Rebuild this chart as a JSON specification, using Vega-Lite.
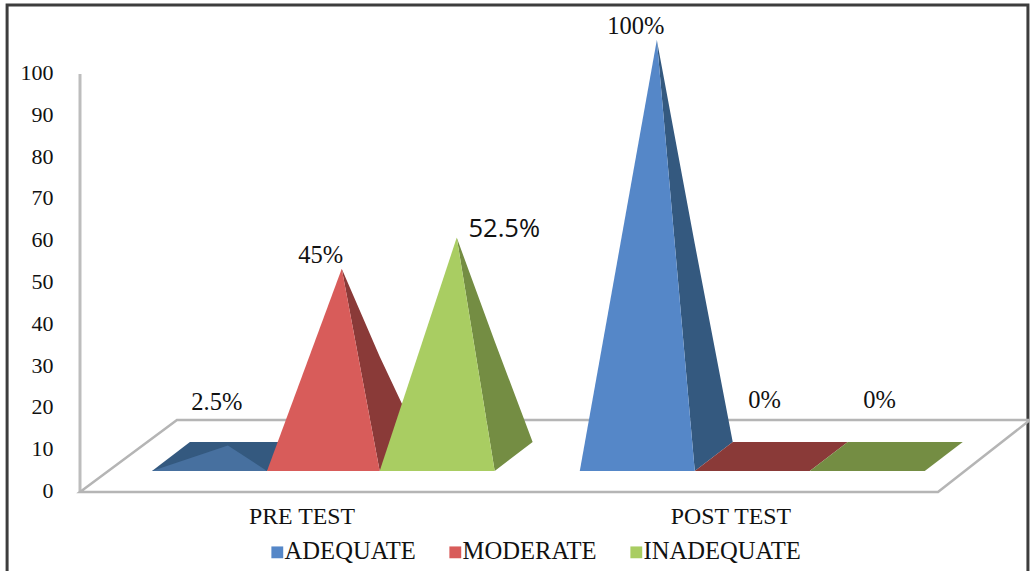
{
  "$schema": "https://vega.github.io/schema/vega-lite/v6.json",
  "autosize": "none",
  "width": 950,
  "height": 418,
  "padding": {"left": 80, "top": 74, "right": 0, "bottom": 79},
  "background": "white",
  "config": {
    "view": {"stroke": null},
    "font": "Liberation Serif",
    "text": {"font": "Liberation Serif", "fontSize": 24.5, "color": "#111111"}
  },
  "datasets": {
    "frame": [{"x": -1.26, "x2": 7.617, "top": 108.4, "bottom": -28.6}],
    "wall": [{"x": -0.626, "from": 0, "to": 100}],
    "floor": [
      {"x": -0.626, "top": -8.65, "bottom": -8.65},
      {"x": 0.217, "top": 8.65, "bottom": -8.65},
      {"x": 6.835, "top": 8.65, "bottom": -8.65},
      {"x": 7.635, "top": 8.65, "bottom": 8.65}
    ],
    "faces": [
      {"bar": "pre-adequate-side", "part": "ADEQUATE side", "x": 0, "top": -3.6, "bottom": -3.6},
      {"bar": "pre-adequate-side", "part": "ADEQUATE side", "x": 0.33, "top": 3.37, "bottom": -3.6},
      {"bar": "pre-adequate-side", "part": "ADEQUATE side", "x": 1, "top": 3.37, "bottom": -3.6},
      {"bar": "pre-adequate-side", "part": "ADEQUATE side", "x": 1.33, "top": 3.37, "bottom": 3.37},
      {"bar": "pre-adequate-front", "part": "ADEQUATE low", "x": 0, "top": -3.6, "bottom": -3.6},
      {"bar": "pre-adequate-front", "part": "ADEQUATE low", "x": 0.66, "top": 2.5, "bottom": -3.6},
      {"bar": "pre-adequate-front", "part": "ADEQUATE low", "x": 1, "top": -3.6, "bottom": -3.6},

      {"bar": "pre-moderate-side", "part": "MODERATE side", "x": 1.65, "top": 45, "bottom": 45},
      {"bar": "pre-moderate-side", "part": "MODERATE side", "x": 1.98, "top": 23.9, "bottom": -3.6},
      {"bar": "pre-moderate-side", "part": "MODERATE side", "x": 2.33, "top": 3.37, "bottom": 3.37},
      {"bar": "pre-moderate-front", "part": "MODERATE", "x": 1, "top": -3.6, "bottom": -3.6},
      {"bar": "pre-moderate-front", "part": "MODERATE", "x": 1.65, "top": 45, "bottom": -3.6},
      {"bar": "pre-moderate-front", "part": "MODERATE", "x": 1.98, "top": -3.6, "bottom": -3.6},

      {"bar": "pre-inadequate-side", "part": "INADEQUATE side", "x": 2.65, "top": 52.5, "bottom": 52.5},
      {"bar": "pre-inadequate-side", "part": "INADEQUATE side", "x": 2.98, "top": 27.6, "bottom": -3.6},
      {"bar": "pre-inadequate-side", "part": "INADEQUATE side", "x": 3.31, "top": 3.37, "bottom": 3.37},
      {"bar": "pre-inadequate-front", "part": "INADEQUATE", "x": 1.98, "top": -3.6, "bottom": -3.6},
      {"bar": "pre-inadequate-front", "part": "INADEQUATE", "x": 2.65, "top": 52.5, "bottom": -3.6},
      {"bar": "pre-inadequate-front", "part": "INADEQUATE", "x": 2.98, "top": -3.6, "bottom": -3.6},

      {"bar": "post-adequate-side", "part": "ADEQUATE side", "x": 4.39, "top": 100, "bottom": 100},
      {"bar": "post-adequate-side", "part": "ADEQUATE side", "x": 4.72, "top": 51, "bottom": -3.6},
      {"bar": "post-adequate-side", "part": "ADEQUATE side", "x": 5.05, "top": 3.37, "bottom": 3.37},
      {"bar": "post-adequate-front", "part": "ADEQUATE", "x": 3.72, "top": -3.6, "bottom": -3.6},
      {"bar": "post-adequate-front", "part": "ADEQUATE", "x": 4.39, "top": 100, "bottom": -3.6},
      {"bar": "post-adequate-front", "part": "ADEQUATE", "x": 4.72, "top": -3.6, "bottom": -3.6},

      {"bar": "post-moderate-flat", "part": "MODERATE side", "x": 4.72, "top": -3.6, "bottom": -3.6},
      {"bar": "post-moderate-flat", "part": "MODERATE side", "x": 5.05, "top": 3.37, "bottom": -3.6},
      {"bar": "post-moderate-flat", "part": "MODERATE side", "x": 5.72, "top": 3.37, "bottom": -3.6},
      {"bar": "post-moderate-flat", "part": "MODERATE side", "x": 6.05, "top": 3.37, "bottom": 3.37},

      {"bar": "post-inadequate-flat", "part": "INADEQUATE side", "x": 5.72, "top": -3.6, "bottom": -3.6},
      {"bar": "post-inadequate-flat", "part": "INADEQUATE side", "x": 6.05, "top": 3.37, "bottom": -3.6},
      {"bar": "post-inadequate-flat", "part": "INADEQUATE side", "x": 6.72, "top": 3.37, "bottom": -3.6},
      {"bar": "post-inadequate-flat", "part": "INADEQUATE side", "x": 7.05, "top": 3.37, "bottom": 3.37}
    ],
    "labels": [
      {"test": "PRE TEST", "series": "ADEQUATE", "value": 2.5, "x": 0.66, "label": "2.5%", "placement": "raised"},
      {"test": "PRE TEST", "series": "MODERATE", "value": 45, "x": 1.65, "label": "45%", "placement": "tip"},
      {"test": "PRE TEST", "series": "INADEQUATE", "value": 52.5, "x": 2.65, "label": "52.5%", "placement": "beside"},
      {"test": "POST TEST", "series": "ADEQUATE", "value": 100, "x": 4.39, "label": "100%", "placement": "tip"},
      {"test": "POST TEST", "series": "MODERATE", "value": 0, "x": 5.38, "label": "0%", "placement": "zero"},
      {"test": "POST TEST", "series": "INADEQUATE", "value": 0, "x": 6.38, "label": "0%", "placement": "zero"}
    ]
  },
  "layer": [
    {
      "description": "Back wall carrying the percentage axis",
      "data": {"name": "wall"},
      "mark": {"type": "rule", "stroke": "#bdbdbd", "strokeWidth": 3},
      "encoding": {
        "x": {
          "field": "x",
          "type": "quantitative",
          "scale": {"domain": [-0.626, 7.635], "nice": false, "zero": false},
          "axis": {
            "values": [1.3, 5.03],
            "labelExpr": "datum.value < 3 ? 'PRE TEST' : 'POST TEST'",
            "title": null,
            "domain": false,
            "ticks": false,
            "grid": false,
            "labelFont": "Liberation Serif",
            "labelFontSize": 23.8,
            "labelColor": "#111111",
            "labelPadding": 12
          }
        },
        "y": {
          "field": "from",
          "type": "quantitative",
          "scale": {"domain": [0, 100], "nice": false},
          "axis": {
            "values": [0, 10, 20, 30, 40, 50, 60, 70, 80, 90, 100],
            "title": null,
            "domain": false,
            "ticks": false,
            "grid": false,
            "labelFont": "Liberation Serif",
            "labelFontSize": 22,
            "labelColor": "#111111",
            "labelPadding": 27,
            "labelOffset": -1.5,
            "labelFlush": false
          }
        },
        "y2": {"field": "to"}
      }
    },
    {
      "description": "Oblique floor and pyramids, drawn on a scale whose zero is the floor's centre line",
      "encoding": {
        "x": {"field": "x", "type": "quantitative"},
        "y": {
          "field": "top",
          "type": "quantitative",
          "scale": {"domain": [-8.65, 91.83], "nice": false, "zero": false},
          "axis": null
        }
      },
      "layer": [
        {
          "data": {"name": "frame"},
          "mark": {"type": "rect", "filled": false, "stroke": "#3d3d3d", "strokeWidth": 3, "clip": false},
          "encoding": {
            "x2": {"field": "x2"},
            "y2": {"field": "bottom"}
          }
        },
        {
          "data": {"name": "floor"},
          "mark": {"type": "area", "fill": "white", "stroke": "#b5b5b5", "strokeWidth": 2.5, "orient": "vertical"},
          "encoding": {
            "y2": {"field": "bottom"}
          }
        },
        {
          "data": {"name": "faces"},
          "mark": {"type": "area", "orient": "vertical"},
          "encoding": {
            "y2": {"field": "bottom"},
            "detail": {"field": "bar"},
            "color": {
              "field": "part",
              "type": "nominal",
              "scale": {
                "domain": ["ADEQUATE", "MODERATE", "INADEQUATE", "ADEQUATE side", "MODERATE side", "INADEQUATE side", "ADEQUATE low"],
                "range": ["#5587c8", "#d85c5a", "#a9cd62", "#34597f", "#8a3a38", "#748d43", "#47709f"]
              },
              "legend": {
                "values": ["ADEQUATE", "MODERATE", "INADEQUATE"],
                "title": null,
                "orient": "none",
                "legendX": 185,
                "legendY": 466,
                "direction": "horizontal",
                "columns": 3,
                "symbolType": "square",
                "symbolSize": 140,
                "symbolStrokeWidth": 0,
                "labelFont": "Liberation Serif",
                "labelFontSize": 24.6,
                "labelColor": "#111111",
                "labelOffset": -5,
                "columnPadding": 27,
                "labelLimit": 300
              }
            }
          }
        },
        {
          "data": {"name": "labels"},
          "transform": [{"filter": "datum.placement === 'tip'"}],
          "mark": {"type": "text", "dx": -21, "dy": -13},
          "encoding": {"y": {"field": "value", "type": "quantitative"}, "text": {"field": "label"}}
        },
        {
          "data": {"name": "labels"},
          "transform": [{"filter": "datum.placement === 'raised'"}],
          "mark": {"type": "text", "dx": -11, "dy": -43},
          "encoding": {"y": {"field": "value", "type": "quantitative"}, "text": {"field": "label"}}
        },
        {
          "data": {"name": "labels"},
          "transform": [{"filter": "datum.placement === 'zero'"}],
          "mark": {"type": "text", "dx": -6, "dy": -55},
          "encoding": {"y": {"field": "value", "type": "quantitative"}, "text": {"field": "label"}}
        },
        {
          "data": {"name": "labels"},
          "transform": [{"filter": "datum.placement === 'beside'"}],
          "mark": {"type": "text", "dx": 47.5, "dy": -9, "font": "Open Sans", "fontSize": 25.5, "color": "#111111"},
          "encoding": {"y": {"field": "value", "type": "quantitative"}, "text": {"field": "label"}}
        }
      ]
    }
  ],
  "resolve": {"scale": {"y": "independent"}}
}
